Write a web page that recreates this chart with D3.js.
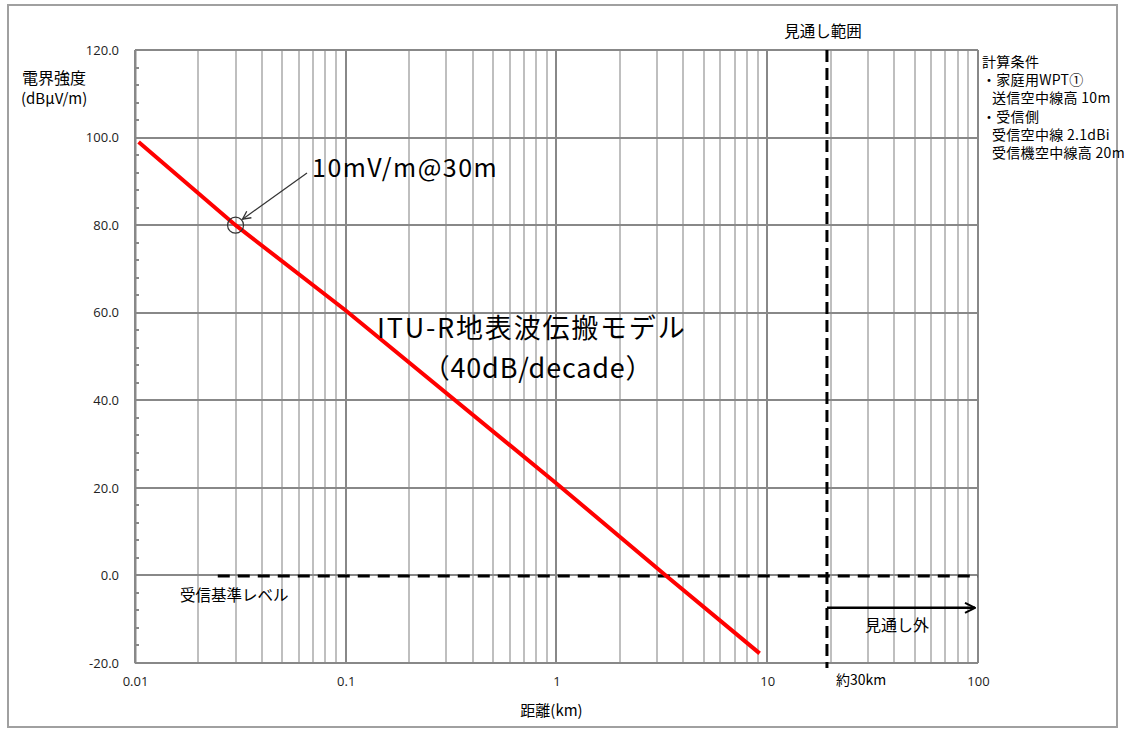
<!DOCTYPE html>
<html>
<head>
<meta charset="utf-8">
<script src="https://cdn.jsdelivr.net/npm/d3@7"></script>
<style>
  body { margin: 0; background: #fff; }
  svg { display: block; font-family: "Noto Sans CJK JP", "Noto Sans", sans-serif; }
</style>
</head>
<body>
<svg id="chart" width="1137" height="730"></svg>
<script>
// field strength line (km, dBuV/m)
const distances = [0.0104, 0.03, 0.1, 1, 3.3, 9.2];
const strengths = [99.0, 80, 60.5, 21, 0, -17.8];

const yTicks = [-20, 0, 20, 40, 60, 80, 100, 120];
const xTicks = [0.01, 0.1, 1, 10, 100];

const refLevel = 0;          // 受信基準レベル
const refStart = 0.0247;     // where the dashed reference line starts
const losLimit = 19.2;       // 見通し範囲 boundary on the axis
const arrowLevel = -7.4;
const markPoint = { d: 0.03, v: 80 };

const conditions = [
  { t: "計算条件", indent: 0 },
  { t: "・家庭用WPT①", indent: 0 },
  { t: "送信空中線高 10m", indent: 1 },
  { t: "・受信側", indent: 0 },
  { t: "受信空中線 2.1dBi", indent: 1 },
  { t: "受信機空中線高 20m", indent: 1 }
];

const margin = { top: 50, left: 135, right: 159, bottom: 67 };
const W = 1137, H = 730;

const svg = d3.select("#chart");

// outer frame
svg.append("rect")
  .attr("x", 8).attr("y", 5)
  .attr("width", 1109).attr("height", 722)
  .attr("fill", "#fff")
  .attr("stroke", "#a0a0a0")
  .attr("stroke-width", 2);

const x = d3.scaleLog().domain([0.01, 100]).range([margin.left, W - margin.right]);
const y = d3.scaleLinear().domain([-20, 120]).range([H - margin.bottom, margin.top]);
const px = v => Math.round(x(v));
const py = v => Math.round(y(v));

const g = svg.append("g");

// minor vertical grid
const minor = [];
for (let e = -2; e < 2; e++) {
  for (let k = 2; k <= 9; k++) minor.push(k * Math.pow(10, e));
}
g.selectAll("line.minor")
  .data(minor)
  .join("line")
  .attr("class", "minor")
  .attr("x1", px).attr("x2", px)
  .attr("y1", py(120)).attr("y2", py(-20))
  .attr("stroke", "#bfbfbf")
  .attr("stroke-width", 2);

// horizontal grid
g.selectAll("line.hgrid")
  .data(yTicks)
  .join("line")
  .attr("class", "hgrid")
  .attr("x1", px(0.01)).attr("x2", px(100))
  .attr("y1", py).attr("y2", py)
  .attr("stroke", "#888")
  .attr("stroke-width", 2);

// major vertical grid
g.selectAll("line.major")
  .data(xTicks)
  .join("line")
  .attr("class", "major")
  .attr("x1", px).attr("x2", px)
  .attr("y1", py(120)).attr("y2", py(-20))
  .attr("stroke", "#888")
  .attr("stroke-width", 2);

// y axis with small inner minor ticks
const yMinor = d3.range(-20, 121, 4).filter(v => v % 20 !== 0);
g.selectAll("line.ytick")
  .data(yMinor)
  .join("line")
  .attr("x1", px(0.01)).attr("x2", px(0.01) + 4)
  .attr("y1", py).attr("y2", py)
  .attr("stroke", "#888")
  .attr("stroke-width", 2);

const yAxis = d3.axisLeft(y).tickValues(yTicks).tickSize(0).tickPadding(16)
  .tickFormat(d => d.toFixed(1));
const ya = g.append("g").attr("transform", `translate(${px(0.01)},0)`).call(yAxis);
ya.select(".domain").attr("stroke", "#888").attr("stroke-width", 2);
ya.selectAll("text").attr("font-size", 13).attr("fill", "#222")
  .attr("font-family", "Open Sans, sans-serif");

const xAxis = d3.axisBottom(x).tickValues(xTicks).tickSize(0).tickPadding(14)
  .tickFormat(d => String(d));
const xa = g.append("g").attr("transform", `translate(0,${y(-20)})`).call(xAxis);
xa.select(".domain").remove();
xa.selectAll("text").attr("font-size", 13).attr("fill", "#222")
  .attr("font-family", "Open Sans, sans-serif");

// axis titles
svg.append("text").attr("x", 22).attr("y", 84).attr("font-size", 16).text("電界強度");
svg.append("text").attr("x", 21).attr("y", 104).attr("font-size", 15).text("(dBμV/m)");
svg.append("text").attr("x", x(1) - 5).attr("y", 716).attr("text-anchor", "middle")
  .attr("font-size", 15).text("距離(km)");

// reference level dashed
g.append("line")
  .attr("x1", x(refStart)).attr("x2", x(100))
  .attr("y1", py(refLevel) + 1).attr("y2", py(refLevel) + 1)
  .attr("stroke", "#000").attr("stroke-width", 3)
  .attr("stroke-dasharray", "12,8");

svg.append("text").attr("x", 180).attr("y", 601).attr("font-size", 15.5).text("受信基準レベル");

// line of sight boundary
g.append("line")
  .attr("x1", x(losLimit)).attr("x2", x(losLimit))
  .attr("y1", y(120)).attr("y2", y(-20) + 5)
  .attr("stroke", "#000").attr("stroke-width", 3)
  .attr("stroke-dasharray", "12,6");

svg.append("text").attr("x", x(losLimit) - 4).attr("y", 37).attr("text-anchor", "middle")
  .attr("font-size", 15.5).text("見通し範囲");
svg.append("text").attr("x", x(losLimit) + 9).attr("y", 685).attr("font-size", 14).text("約30km");

// beyond line of sight arrow
const defs = svg.append("defs");
defs.append("marker")
  .attr("id", "openArrow")
  .attr("viewBox", "0 0 12 12")
  .attr("refX", 11).attr("refY", 6)
  .attr("markerWidth", 12).attr("markerHeight", 12)
  .attr("markerUnits", "userSpaceOnUse")
  .attr("orient", "auto")
  .append("path")
  .attr("d", "M1,1 L11,6 L1,11")
  .attr("fill", "none").attr("stroke", "#000").attr("stroke-width", 2);

g.append("line")
  .attr("x1", x(losLimit)).attr("x2", x(100) - 3)
  .attr("y1", y(arrowLevel)).attr("y2", y(arrowLevel))
  .attr("stroke", "#000").attr("stroke-width", 2.5)
  .attr("marker-end", "url(#openArrow)");
svg.append("text").attr("x", 897).attr("y", 631).attr("text-anchor", "middle")
  .attr("font-size", 16).text("見通し外");

// ITU-R ground wave line
const line = d3.line().x((d, i) => x(d)).y((d, i) => y(strengths[i]));
g.append("path")
  .attr("d", line(distances))
  .attr("fill", "none")
  .attr("stroke", "#ff0000")
  .attr("stroke-width", 4);

// marked point + callout
g.append("circle")
  .attr("cx", x(markPoint.d)).attr("cy", y(markPoint.v))
  .attr("r", 8)
  .attr("fill", "none").attr("stroke", "#333").attr("stroke-width", 1.2);

defs.append("marker")
  .attr("id", "smallArrow")
  .attr("viewBox", "0 0 10 10")
  .attr("refX", 9).attr("refY", 5)
  .attr("markerWidth", 10).attr("markerHeight", 10)
  .attr("markerUnits", "userSpaceOnUse")
  .attr("orient", "auto")
  .append("path")
  .attr("d", "M1,1 L9,5 L1,9")
  .attr("fill", "none").attr("stroke", "#333").attr("stroke-width", 1.3);

g.append("line")
  .attr("x1", 307).attr("y1", 173)
  .attr("x2", x(markPoint.d) + 7).attr("y2", y(markPoint.v) - 6)
  .attr("stroke", "#333").attr("stroke-width", 1.2)
  .attr("marker-end", "url(#smallArrow)");

svg.append("text").attr("x", 312).attr("y", 177).attr("font-size", 25)
  .attr("letter-spacing", 1.5).text("10mV/m@30m");

svg.append("text").attr("x", 377).attr("y", 338).attr("font-size", 27)
  .attr("letter-spacing", 1.8).text("ITU-R地表波伝搬モデル");
svg.append("text").attr("x", 538).attr("y", 378).attr("text-anchor", "middle")
  .attr("font-size", 27).attr("letter-spacing", 0.8).text("（40dB/decade）");

// calculation conditions
svg.append("g").selectAll("text")
  .data(conditions)
  .join("text")
  .attr("x", d => d.indent ? 992 : 982)
  .attr("y", (d, i) => 67 + i * 18.2)
  .attr("font-size", 14)
  .attr("letter-spacing", 0.3)
  .text(d => d.t);
</script>
</body>
</html>
